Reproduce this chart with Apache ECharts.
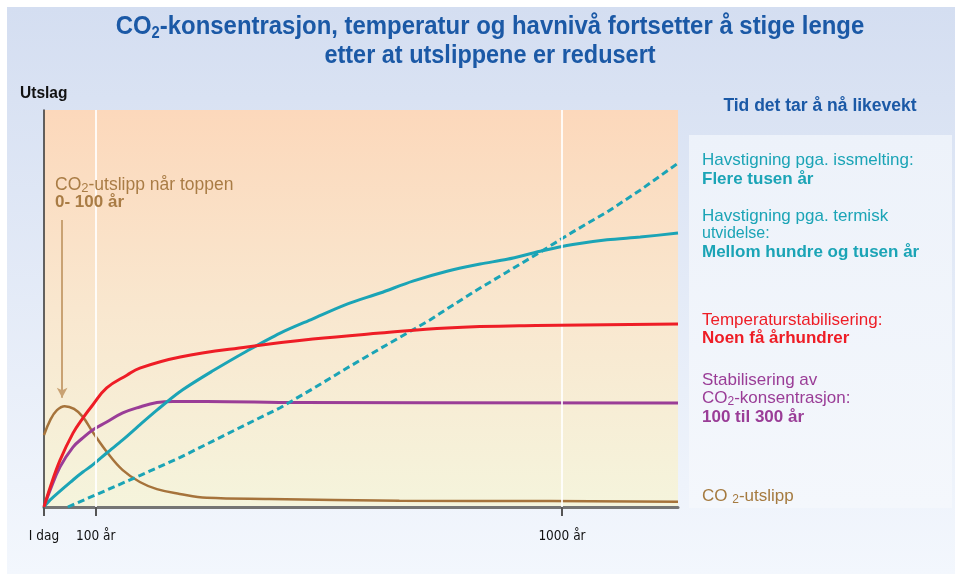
<!DOCTYPE html>
<html>
<head>
<meta charset="utf-8">
<script src="https://cdn.jsdelivr.net/npm/echarts@6/dist/echarts.min.js"></script>
<style>
html,body{margin:0;padding:0;background:#fff;}
#chart{width:955px;height:574px;}
</style>
</head>
<body>
<div id="chart"></div>
<script>
// ---- data (years after today, relative response) ----
const tickValues = [0, 100, 1000];
const tickLabels = ['I dag', '100 år', '1000 år'];
const co2Emission = [[0,18.1],[12,21.9],[25,24.4],[40,25.4],[58,24.7],[75,22.7],[94,18.9],[123,13.6],[152,9.3],[185,6.3],[218,4.5],[262,3.3],[314,2.3],[435,2.0],[686,1.6],[975,1.5],[1224,1.3]];
const temperature = [[0,0],[12,5.0],[31,11.8],[56,18.6],[75,22.4],[94,25.7],[121,30.0],[160,33.2],[185,35.0],[263,37.8],[392,40.3],[519,42.3],[649,43.8],[778,45.1],[950,45.7],[1224,46.1]];
const co2Concentration = [[0,0],[12,4.3],[31,10.1],[56,15.1],[75,17.4],[94,19.4],[121,21.4],[152,23.7],[185,25.2],[218,26.3],[249,26.6],[314,26.6],[493,26.3],[1224,26.2]];
const thermalExpansion = [[0,0],[12,1.8],[56,6.8],[75,8.8],[94,10.6],[121,13.6],[152,16.9],[185,20.7],[218,24.4],[263,29.1],[326,34.3],[392,39.3],[456,43.8],[519,47.4],[585,51.1],[649,53.9],[712,56.9],[778,59.4],[842,61.2],[894,62.4],[958,64.4],[1021,66.1],[1087,67.3],[1151,68.0],[1224,69.0]];
const iceMelting = [[46,0],[104,3.3],[185,7.9],[263,12.5],[326,16.6],[392,20.9],[456,25.0],[519,29.8],[585,35.0],[649,39.9],[701,43.8],[745,47.1],[790,50.9],[835,54.6],[894,59.2],[958,64.2],[1021,69.3],[1087,74.3],[1151,79.8],[1224,86.6]];
const arrowLine = [[35,72.3],[35,27.5]];

const chart = echarts.init(document.getElementById('chart'));
const F = "'Liberation Sans', Arial, Helvetica, sans-serif";
const FN = "'DejaVu Sans Condensed', 'Liberation Sans Narrow', sans-serif";
const teal = '#1ba4b6', red = '#ee1d26', purple = '#9a3d97', brown = '#a6733b';
const blue = '#1b59a6';

function label(x, y, text, color, size, bold) {
  return {type: 'text', x: x, y: y, z: 10, style: {text: text, fontFamily: F, fontSize: size,
    fontWeight: bold ? 'bold' : 'normal', fill: color, verticalAlign: 'middle'}};
}
function subLabel(x, y, pre, post, color, size, subSize) {
  return {type: 'text', x: x, y: y, z: 10, style: {
    text: '{a|' + pre + '}{s|2}{a|' + post + '}', verticalAlign: 'middle',
    rich: {a: {fontFamily: F, fontSize: size, fill: color, lineHeight: size + 3},
           s: {fontFamily: F, fontSize: subSize, fill: color, lineHeight: subSize + 1, verticalAlign: 'bottom'}}}};
}

chart.setOption({
  animation: false,
  backgroundColor: '#ffffff',
  grid: {
    left: 44, right: 277, top: 110, bottom: 67,
    show: true, borderWidth: 0,
    backgroundColor: new echarts.graphic.LinearGradient(0,0,0,1,[
      {offset:0,color:'#fcd8bb'},{offset:0.5,color:'#f9e7cf'},{offset:1,color:'#f5f4dc'}])
  },
  xAxis: {
    type: 'value', min: 0, max: 1224,
    axisLine: {show: true, lineStyle: {color: '#757575', width: 3}},
    axisTick: {show: true, customValues: tickValues, length: 9, lineStyle: {color: '#555', width: 2}},
    axisLabel: {show: true, customValues: tickValues, margin: 22, color: '#111', fontSize: 13.5, fontFamily: FN,
      formatter: v => tickLabels[tickValues.indexOf(v)] || ''},
    splitLine: {show: false}
  },
  yAxis: {
    type: 'value', min: 0, max: 100,
    axisLine: {show: true, lineStyle: {color: '#333', width: 1.5}},
    axisTick: {show: false}, axisLabel: {show: false}, splitLine: {show: false}
  },
  series: [
    {type: 'line', data: [[0,0]], symbol: 'none', lineStyle: {width: 0}, z: 1, silent: true,
      markLine: {silent: true, symbol: 'none', label: {show: false},
        lineStyle: {color: 'rgba(255,255,255,0.85)', width: 2, type: 'solid'},
        data: [{xAxis: 100}, {xAxis: 1000}]}},
    {name: 'CO2-utslipp', type: 'line', data: co2Emission, smooth: 0.4, symbol: 'none', z: 3,
      lineStyle: {color: brown, width: 2.5},
      markLine: {silent: true, symbol: ['none', 'arrow'], symbolSize: [8, 10], label: {show: false},
        lineStyle: {color: '#c9a273', width: 2, type: 'solid'},
        data: [[{coord: arrowLine[0]}, {coord: arrowLine[1]}]]}},
    {name: 'Stabilisering av CO2-konsentrasjon', type: 'line', data: co2Concentration, smooth: 0.4, symbol: 'none', z: 3,
      lineStyle: {color: purple, width: 3}},
    {name: 'Havstigning termisk', type: 'line', data: thermalExpansion, smooth: 0.3, symbol: 'none', z: 4,
      lineStyle: {color: teal, width: 3}},
    {name: 'Havstigning issmelting', type: 'line', data: iceMelting, smooth: false, symbol: 'none', z: 4,
      lineStyle: {color: teal, width: 3, type: [7, 4]}},
    {name: 'Temperatur', type: 'line', data: temperature, smooth: 0.4, symbol: 'none', z: 5,
      lineStyle: {color: red, width: 3}}
  ],
  graphic: [
    {type: 'rect', z: -10, silent: true, shape: {x: 7, y: 7, width: 948, height: 567},
      style: {fill: new echarts.graphic.LinearGradient(0,0,0,1,[
        {offset:0,color:'#d4def1'},{offset:1,color:'#f3f7fd'}])}},
    {type: 'rect', z: -9, silent: true, shape: {x: 689, y: 135, width: 263, height: 373},
      style: {fill: new echarts.graphic.LinearGradient(0,0,0,1,[
        {offset:0,color:'#edf2fa'},{offset:1,color:'#f4f7fc'}])}},
    // title
    {type: 'text', x: 490, y: 27, scaleX: 0.92, z: 10, style: {
      text: '{a|CO}{s|2}{a|-konsentrasjon, temperatur og havnivå fortsetter å stige lenge}',
      align: 'center', verticalAlign: 'middle',
      rich: {a: {fontFamily: F, fontSize: 26, fontWeight: 'bold', fill: blue, lineHeight: 30},
             s: {fontFamily: F, fontSize: 16, fontWeight: 'bold', fill: blue, lineHeight: 17, verticalAlign: 'bottom'}}}},
    {type: 'text', x: 490, y: 56, scaleX: 0.92, z: 10, style: {
      text: 'etter at utslippene er redusert', fontFamily: F, fontSize: 25.5, fontWeight: 'bold', fill: blue,
      align: 'center', verticalAlign: 'middle'}},
    {type: 'text', x: 20, y: 94, scaleX: 0.97, z: 10, style: {text: 'Utslag', fontFamily: F, fontSize: 16, fontWeight: 'bold', fill: '#111', verticalAlign: 'middle'}},
    {type: 'text', x: 820, y: 106, z: 10, style: {text: 'Tid det tar å nå likevekt', fontFamily: F, fontSize: 17.5, fontWeight: 'bold', fill: blue, align: 'center', verticalAlign: 'middle'}},
    // annotation
    subLabel(55, 185, 'CO', '-utslipp når toppen', '#a97c45', 17.5, 13),
    label(55, 202, '0- 100 år', '#a97c45', 17, true),
    // right panel labels
    label(702, 160, 'Havstigning pga. issmelting:', teal, 17, false),
    label(702, 179, 'Flere tusen år', teal, 17, true),
    label(702, 216, 'Havstigning pga. termisk', teal, 17, false),
    label(702, 234, 'utvidelse:', teal, 16, false),
    label(702, 252, 'Mellom hundre og tusen år', teal, 17, true),
    label(702, 320, 'Temperaturstabilisering:', red, 17, false),
    label(702, 338, 'Noen få århundrer', red, 17, true),
    label(702, 380, 'Stabilisering av', purple, 17, false),
    subLabel(702, 398, 'CO', '-konsentrasjon:', purple, 17, 12),
    label(702, 417, '100 til 300 år', purple, 17, true),
    subLabel(702, 496, 'CO ', '-utslipp', '#a57a3f', 17, 12)
  ]
});
</script>
</body>
</html>
